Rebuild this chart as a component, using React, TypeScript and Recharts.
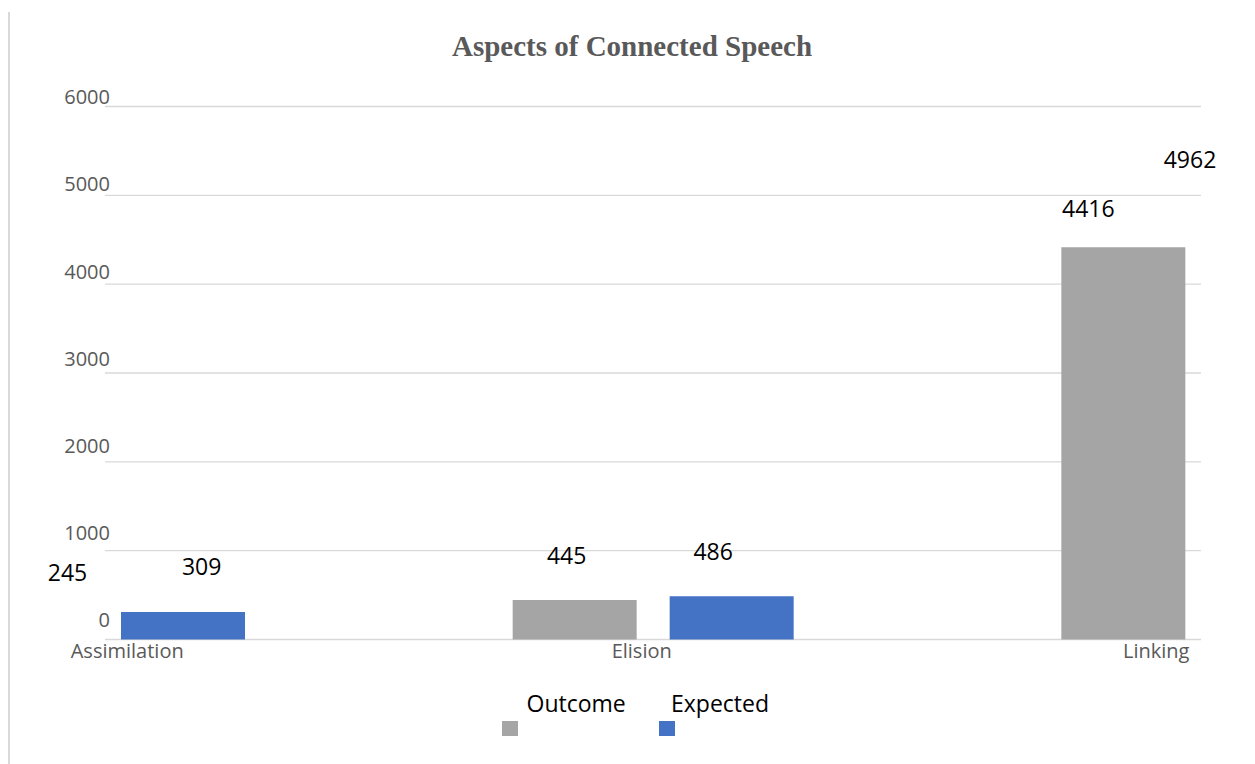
import React from 'react';
import { BarChart, Bar, XAxis, YAxis, CartesianGrid, Cell, LabelList, Legend } from 'recharts';

const categories = ['Assimilation', 'Elision', 'Linking'];
const outcomeValues = [245, 445, 4416];
const expectedValues = [309, 486, 4962];
const yTicks = [0, 1000, 2000, 3000, 4000, 5000, 6000];
const seriesNames = ['Outcome', 'Expected'];
// bars that fall outside the plot window in the original chart
const outcomeShown = [false, true, true];
const expectedShown = [true, true, false];

const data = categories.map((name, i) => ({
  name,
  outcome: outcomeValues[i],
  expected: expectedValues[i],
}));

const GRAY = '#a5a5a5';
const BLUE = '#4472c4';
const TEXT_GRAY = '#595959';
const FONT = "'Open Sans', 'Liberation Sans', sans-serif";

// label placement tweaks (px, relative to bar top-center)
const outcomeLabelDx = [41.5, -8, -35];
const outcomeLabelDy = [-36.5, -36, -30];
const expectedLabelDx = [18.7, -18.5, -90.3];
const expectedLabelDy = [-37, -36.5, -31];

const makeLabel = (dxs: number[], dys: number[], values: number[]) => (props: any) => {
  const vb = props.viewBox || {};
  const x = vb.x ?? props.x;
  const y = vb.y ?? props.y;
  const w = vb.width ?? props.width;
  let i = props.index;
  if (i == null || dxs[i] == null) i = values.indexOf(Number(props.value));
  return (
    <text
      x={x + w / 2 + dxs[i]}
      y={y + dys[i]}
      textAnchor="middle"
      fontFamily={FONT}
      fontSize={23}
      fill="#000"
    >
      {props.value}
    </text>
  );
};

const YTick = (props: any) => {
  const { x, y, payload } = props;
  const v = Number(payload.value);
  const off = -9.5 - 10 * (6000 - v) / 6000;
  return (
    <text x={x + 5} y={y + off + 7.2} textAnchor="end" fontFamily={FONT} fontSize={20} fill={TEXT_GRAY}>
      {payload.value}
    </text>
  );
};

const XTick = (props: any) => {
  const { x, y, payload } = props;
  const lx = 641.7 + (x - 653) * 0.9377;
  return (
    <text x={lx} y={y + 18.8} textAnchor="middle" fontFamily={FONT} fontSize={20} fill={TEXT_GRAY}>
      {payload.value}
    </text>
  );
};

const legendLayout = [
  { color: GRAY, squareLeft: 502, textLeft: 526.5 },
  { color: BLUE, squareLeft: 659, textLeft: 671 },
];

const LegendContent = () => (
  <div style={{ position: 'relative', width: 1255, height: 60, fontFamily: FONT, fontSize: 23, color: '#000' }}>
    {seriesNames.map((name, i) => (
      <React.Fragment key={name}>
        <div
          style={{
            position: 'absolute',
            left: legendLayout[i].squareLeft,
            top: 31,
            width: 16,
            height: 15,
            background: legendLayout[i].color,
          }}
        />
        <span style={{ position: 'absolute', left: legendLayout[i].textLeft, top: 2.3, lineHeight: '23px', whiteSpace: 'nowrap' }}>
          {name}
        </span>
      </React.Fragment>
    ))}
  </div>
);

export default function App() {
  return (
    <div style={{ position: 'absolute', left: 0, top: 0, width: 1255, height: 764, overflow: 'hidden', background: '#fff' }}>
      <div style={{ position: 'absolute', left: 8, top: 12, width: 2, height: 752, background: '#d9d9d9' }} />
      <div
        style={{
          position: 'absolute',
          left: 0,
          top: 32,
          width: 1264,
          textAlign: 'center',
          fontFamily: "'Liberation Serif', 'Times New Roman', serif",
          fontWeight: 'bold',
          fontSize: 29,
          lineHeight: '29px',
          color: TEXT_GRAY,
          zIndex: 2,
        }}
      >
        Aspects of Connected Speech
      </div>
      <div style={{ position: 'absolute', left: 0, top: 0 }}>
        <BarChart
          width={1255}
          height={764}
          data={data}
          margin={{ top: 106.5, right: 54, bottom: 94.5, left: 45 }}
          barSize={124}
          barGap={33}
        >
          <CartesianGrid vertical={false} stroke="#d9d9d9" strokeWidth={1.3} />
          <XAxis
            dataKey="name"
            height={30}
            padding={{ left: -275, right: -275 }}
            axisLine={false}
            tickLine={false}
            tickSize={0}
            tickMargin={0}
            interval={0}
            tick={<XTick />}
          />
          <YAxis
            width={60}
            domain={[0, 6000]}
            ticks={yTicks}
            interval={0}
            axisLine={false}
            tickLine={false}
            tickSize={0}
            tickMargin={0}
            tick={<YTick />}
          />
          <Legend
            layout="horizontal"
            verticalAlign="middle"
            align="center"
            wrapperStyle={{ top: 690, left: 0, width: 1255, height: 60 }}
            content={() => <LegendContent />}
          />
          <Bar dataKey="outcome" name={seriesNames[0]} fill={GRAY} isAnimationActive={false}>
            {data.map((d, i) => (
              <Cell key={d.name} fill={outcomeShown[i] ? GRAY : 'transparent'} />
            ))}
            <LabelList dataKey="outcome" content={makeLabel(outcomeLabelDx, outcomeLabelDy, outcomeValues)} />
          </Bar>
          <Bar dataKey="expected" name={seriesNames[1]} fill={BLUE} isAnimationActive={false}>
            {data.map((d, i) => (
              <Cell key={d.name} fill={expectedShown[i] ? BLUE : 'transparent'} />
            ))}
            <LabelList dataKey="expected" content={makeLabel(expectedLabelDx, expectedLabelDy, expectedValues)} />
          </Bar>
        </BarChart>
      </div>
    </div>
  );
}
